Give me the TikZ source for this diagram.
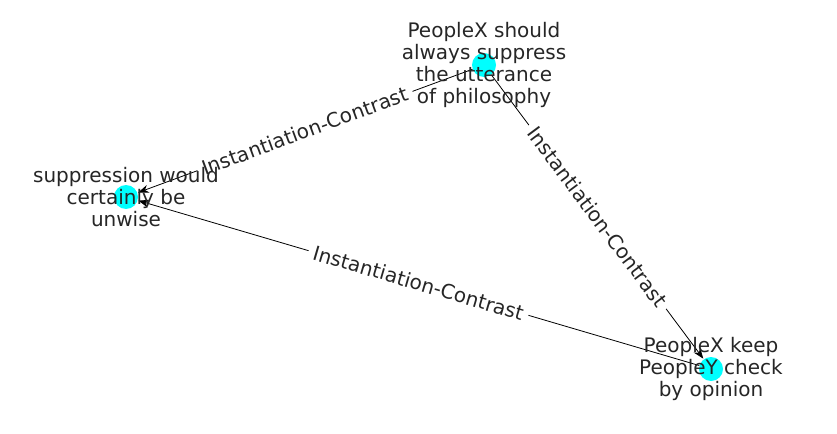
\documentclass[tikz,border=0pt]{standalone}
\usepackage{fontspec}
\setmainfont{DejaVu Sans}
\usetikzlibrary{arrows.meta}
\definecolor{nodecyan}{HTML}{00FFFF}
\definecolor{txt}{HTML}{262626}
\begin{document}
\begin{tikzpicture}[x=0.75pt,y=-0.75pt,
  dot/.style={circle,fill=nodecyan,minimum size=18pt,inner sep=0pt},
  lbl/.style={align=center,font=\fontsize{15}{16.5}\selectfont,text=txt,inner sep=0pt},
  edge/.style={draw=black,line width=0.6pt,-{Stealth[length=8pt,width=6pt]},shorten >=0.5pt},
  elbl/.style={sloped,fill=white,font=\fontsize{15}{16}\selectfont,text=txt,inner xsep=4pt,inner ysep=1pt}]
\useasboundingbox (0,0) rectangle (837,434);
\node[dot] (A) at (484,65) {};
\node[dot] (B) at (126,197) {};
\node[dot] (C) at (711,369) {};
\draw[edge] (A) -- node[elbl] {Instantiation-Contrast} (B);
\draw[edge] (A) -- node[elbl] {Instantiation-Contrast} (C);
\draw[edge] (C) -- node[elbl] {Instantiation-Contrast} (B);
\node[lbl] (tA) at (484,65) {PeopleX should\\always suppress\\the utterance\\of philosophy};
\node[lbl] (tB) at (126,197) {suppression would\\certainly be\\unwise};
\node[lbl] (tC) at (711,369) {PeopleX keep\\PeopleY check\\by opinion};
\end{tikzpicture}
\end{document}
